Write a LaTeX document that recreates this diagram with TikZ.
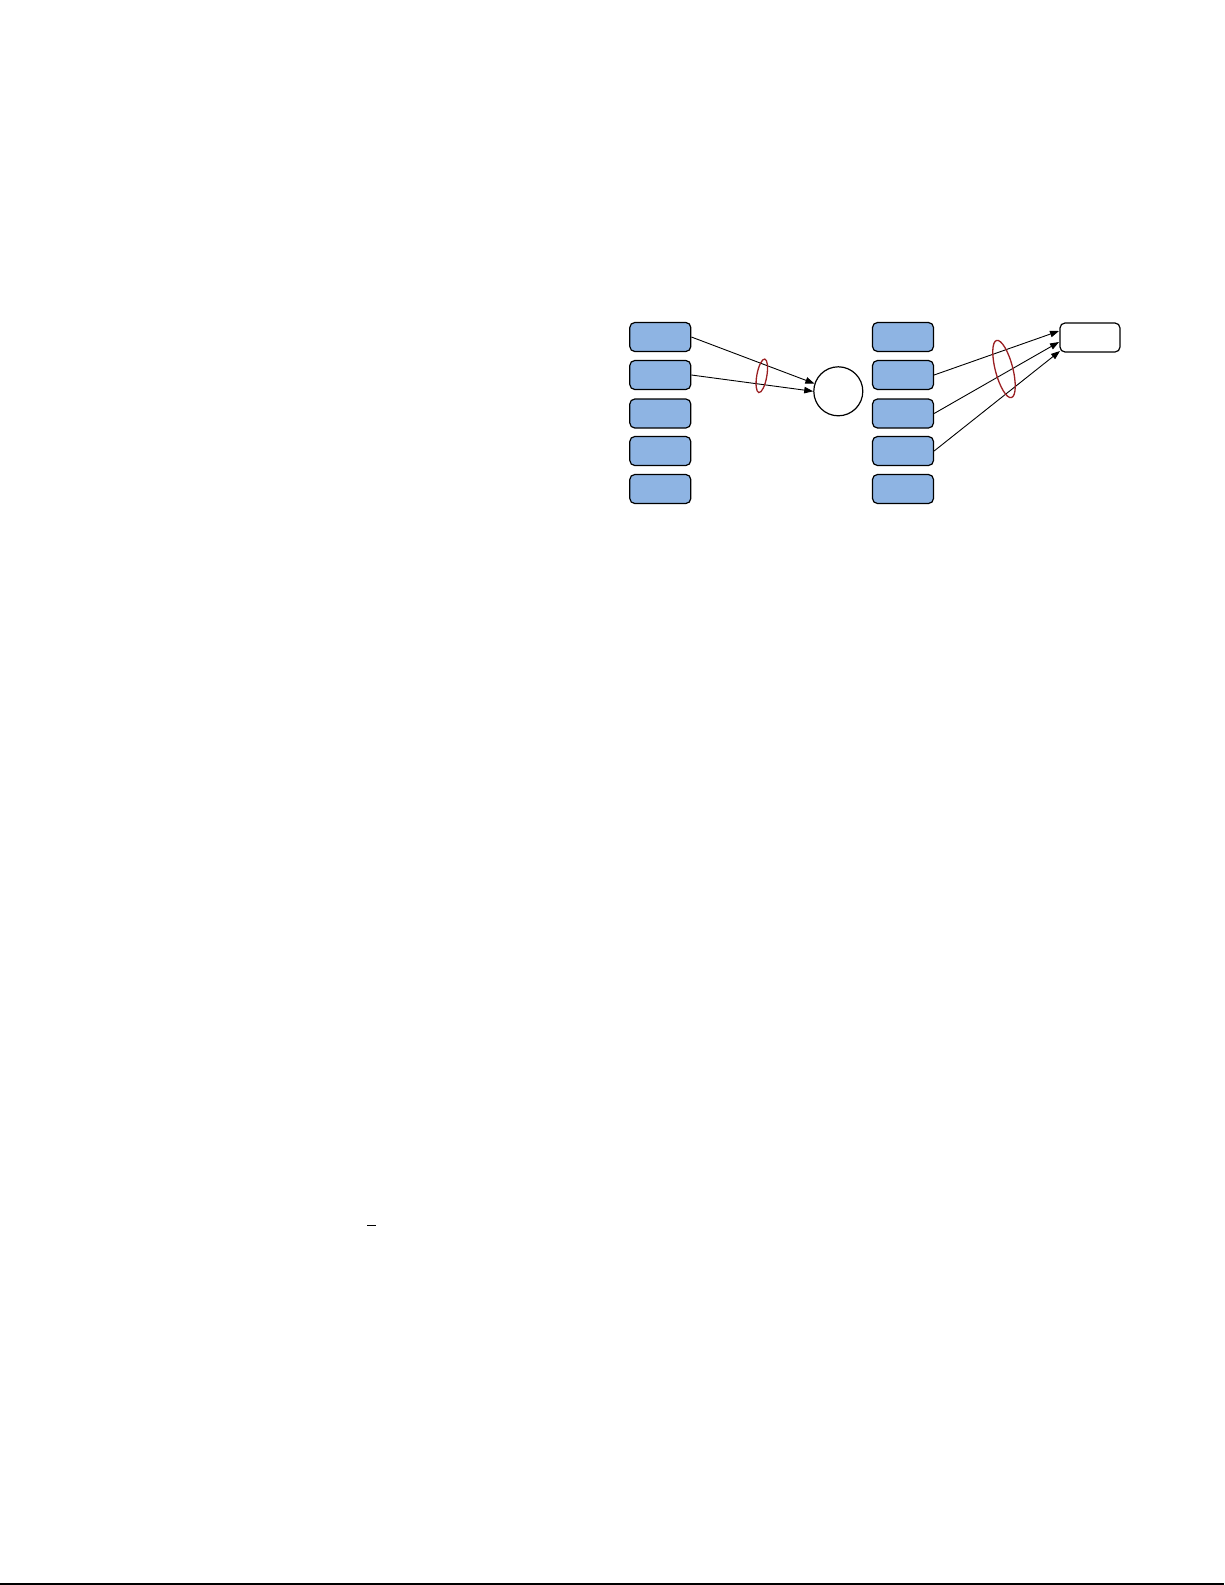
\documentclass[tikz,border=0pt]{standalone}
\usetikzlibrary{shapes.geometric,arrows.meta}
\definecolor{boxblue}{HTML}{8EB4E3}
\definecolor{ringred}{HTML}{9A1F22}
\begin{document}
\begin{tikzpicture}[x=1pt,y=-1pt,
  bluebox/.style={draw=black,line width=1.2pt,fill=boxblue,rounded corners=5pt,minimum width=61pt,minimum height=29pt,inner sep=0pt},
  whitebox/.style={draw=black,line width=1.2pt,fill=white,rounded corners=5pt,minimum width=60pt,minimum height=29pt,inner sep=0pt},
  ring/.style={ellipse,draw=ringred,line width=1.3pt,inner sep=0pt},
  link/.style={draw=black,line width=0.9pt,-{Triangle[length=9pt,width=6.5pt]}}]
\useasboundingbox (0,0) rectangle (1225,1585);
% left column
\foreach \i/\y in {1/337,2/375,3/413.5,4/451,5/489}{
  \node[bluebox] (l\i) at (660.3,\y) {};
  \node[bluebox] (r\i) at (903,\y) {};
}
\node[circle,draw=black,line width=1.2pt,minimum size=49pt,inner sep=0pt] (c) at (838.3,391.3) {};
\node[whitebox] (w) at (1090,337.5) {};
% connectors
\draw[link] (l1.east) -- (c.162);
\draw[link] (l2.east) -- (c.west);
\coordinate (w1) at (1059,331);
\coordinate (w2) at (1059,342);
\coordinate (w3) at (1060,351);
\draw[link] (r2.east) -- (w1);
\draw[link] (r3.east) -- (w2);
\draw[link] (r4.east) -- (w3);
% rings
\node[ring,minimum width=10pt,minimum height=34pt,rotate=-10] (e1) at (761.8,375.8) {};
\node[ring,minimum width=17.5pt,minimum height=59pt,rotate=14.5] (e2) at (1004,369) {};
% stray marks
\draw[line width=1pt] (367,1225.3) -- (376,1225.3);
\draw[line width=2pt] (0,1584) -- (1224,1584);
\end{tikzpicture}
\end{document}
